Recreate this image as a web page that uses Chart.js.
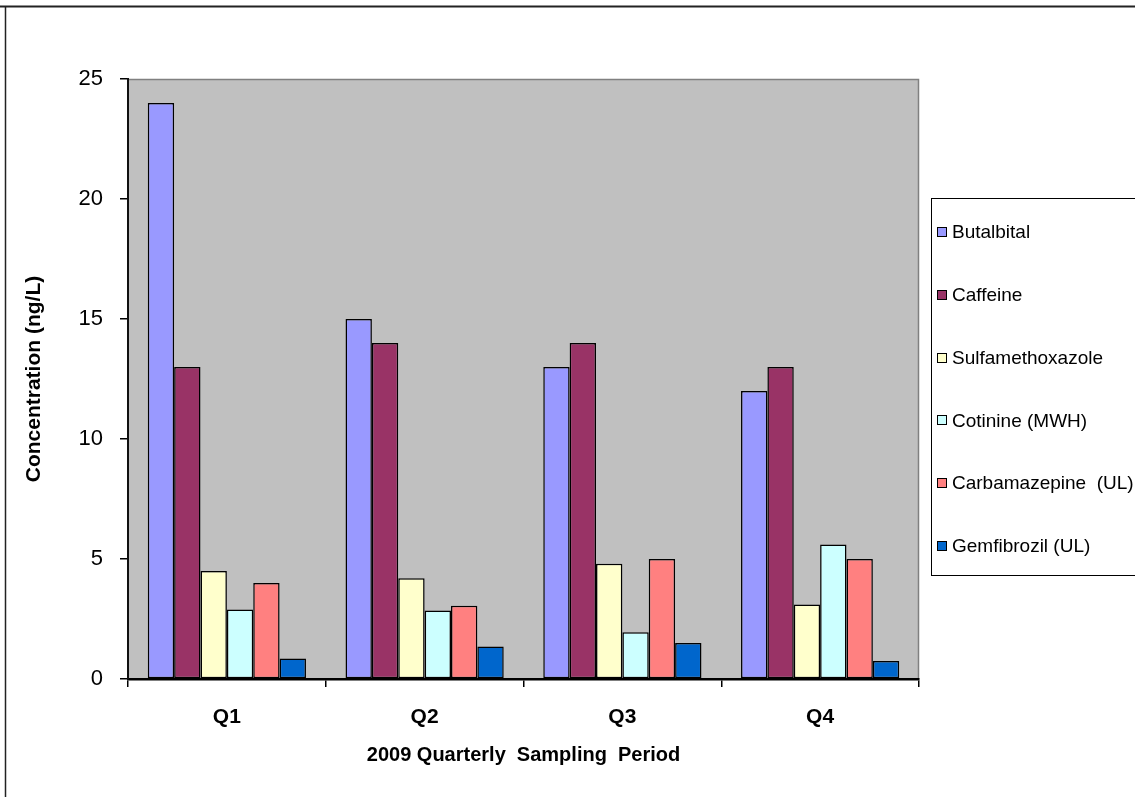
<!DOCTYPE html>
<html>
<head>
<meta charset="utf-8">
<script src="https://cdn.jsdelivr.net/npm/chart.js@4"></script>
<style>
  html, body { margin: 0; padding: 0; background: #fff; }
  canvas { display: block; }
</style>
</head>
<body>
<canvas id="chart" width="1135" height="797"></canvas>
<script>
// Quarterly concentrations (ng/L) of each compound
const quarters = ['Q1', 'Q2', 'Q3', 'Q4'];
const compounds = ['Butalbital', 'Caffeine', 'Sulfamethoxazole', 'Cotinine (MWH)', 'Carbamazepine  (UL)', 'Gemfibrozil (UL)'];
const butalbital = [24, 15, 13, 12];
const caffeine = [13, 14, 14, 13];
const sulfamethoxazole = [4.5, 4.2, 4.8, 3.1];
const cotinine = [2.9, 2.85, 1.95, 5.6];
const carbamazepine = [4.0, 3.05, 5.0, 5.0];
const gemfibrozil = [0.85, 1.35, 1.5, 0.75];
const yTicks = [0, 5, 10, 15, 20, 25];
const xTitle = '2009 Quarterly  Sampling  Period';
const yTitle = 'Concentration (ng/L)';

const seriesValues = [butalbital, caffeine, sulfamethoxazole, cotinine, carbamazepine, gemfibrozil];
const seriesColors = ['#9999FF', '#993366', '#FFFFCC', '#CCFFFF', '#FF8080', '#0066CC'];

const FONT = "'Liberation Sans', Arial, sans-serif";

// white page, rule across the top, frame's left edge and the grey plot background
const pageFrame = {
  id: 'pageFrame',
  beforeDraw(chart) {
    const ctx = chart.ctx;
    ctx.save();
    ctx.fillStyle = '#fff';
    ctx.fillRect(0, 0, chart.width, chart.height);
    ctx.strokeStyle = '#222';
    ctx.lineWidth = 2;
    ctx.beginPath();
    ctx.moveTo(0, 6.5);
    ctx.lineTo(chart.width, 6.5);
    ctx.stroke();
    ctx.lineWidth = 1.5;
    ctx.beginPath();
    ctx.moveTo(5.5, 7);
    ctx.lineTo(5.5, chart.height);
    ctx.stroke();
    const a = chart.chartArea;
    ctx.fillStyle = '#C0C0C0';
    ctx.fillRect(a.left, a.top, a.right - a.left, a.bottom - a.top);
    ctx.strokeStyle = '#808080';
    ctx.lineWidth = 1.5;
    ctx.beginPath();
    ctx.moveTo(a.left, a.top + 0.5);
    ctx.lineTo(a.right - 0.5, a.top + 0.5);
    ctx.lineTo(a.right - 0.5, a.bottom);
    ctx.stroke();
    ctx.restore();
  }
};

// boxed legend to the right of the plot
const boxLegend = {
  id: 'boxLegend',
  afterDraw(chart) {
    const ctx = chart.ctx;
    const left = 931, top = 198, bottom = 575;
    const firstY = 232, step = 62.8;
    ctx.save();
    ctx.strokeStyle = '#000';
    ctx.lineWidth = 1;
    ctx.strokeRect(left + 0.5, top + 0.5, chart.width, bottom - top);
    ctx.font = '19px ' + FONT;
    ctx.textBaseline = 'middle';
    ctx.textAlign = 'left';
    chart.data.datasets.forEach((ds, i) => {
      const y = firstY + i * step;
      ctx.fillStyle = ds.backgroundColor;
      ctx.fillRect(937, Math.round(y - 5), 10, 10);
      ctx.strokeStyle = '#000';
      ctx.lineWidth = 1;
      ctx.strokeRect(937.5, Math.round(y - 5) + 0.5, 9, 9);
      ctx.fillStyle = '#000';
      ctx.fillText(ds.label, 952, y + 1);
    });
    ctx.restore();
  }
};

new Chart(document.getElementById('chart'), {
  type: 'bar',
  data: {
    labels: quarters,
    datasets: compounds.map((name, i) => ({
      label: name,
      data: seriesValues[i],
      backgroundColor: seriesColors[i],
      borderColor: '#000',
      borderWidth: 1.5,
      borderSkipped: false,
      categoryPercentage: 0.8,
      barPercentage: 1.0
    }))
  },
  options: {
    responsive: false,
    animation: false,
    devicePixelRatio: 1,
    layout: { padding: { left: 0, right: 216, top: 79, bottom: 0 } },
    plugins: {
      legend: { display: false },
      tooltip: { enabled: false }
    },
    scales: {
      x: {
        z: 1,
        afterFit(scale) { scale.height = 118; },
        grid: {
          drawOnChartArea: false,
          drawTicks: true,
          tickLength: 8,
          color: '#000',
          lineWidth: 1.5,
          offset: true
        },
        border: { color: '#000', width: 2.5 },
        ticks: {
          color: '#000',
          padding: 18,
          font: { family: FONT, size: 21, weight: 'bold' }
        },
        title: {
          display: true,
          text: xTitle,
          color: '#000',
          font: { family: FONT, size: 20, weight: 'bold' },
          padding: { top: 0, bottom: 30 }
        }
      },
      y: {
        min: 0,
        max: 25,
        afterFit(scale) { scale.width = 128; },
        afterBuildTicks(scale) { scale.ticks = yTicks.map(v => ({ value: v })); },
        grid: {
          drawOnChartArea: false,
          drawTicks: true,
          tickLength: 8,
          color: '#000',
          lineWidth: 1.5
        },
        border: { color: '#111', width: 2 },
        ticks: {
          color: '#000',
          padding: 17,
          font: { family: FONT, size: 22 }
        },
        title: {
          display: true,
          text: yTitle,
          color: '#000',
          font: { family: FONT, size: 21, weight: 'bold' },
          padding: { top: 22, bottom: 0 }
        }
      }
    }
  },
  plugins: [pageFrame, boxLegend]
});
</script>
</body>
</html>
